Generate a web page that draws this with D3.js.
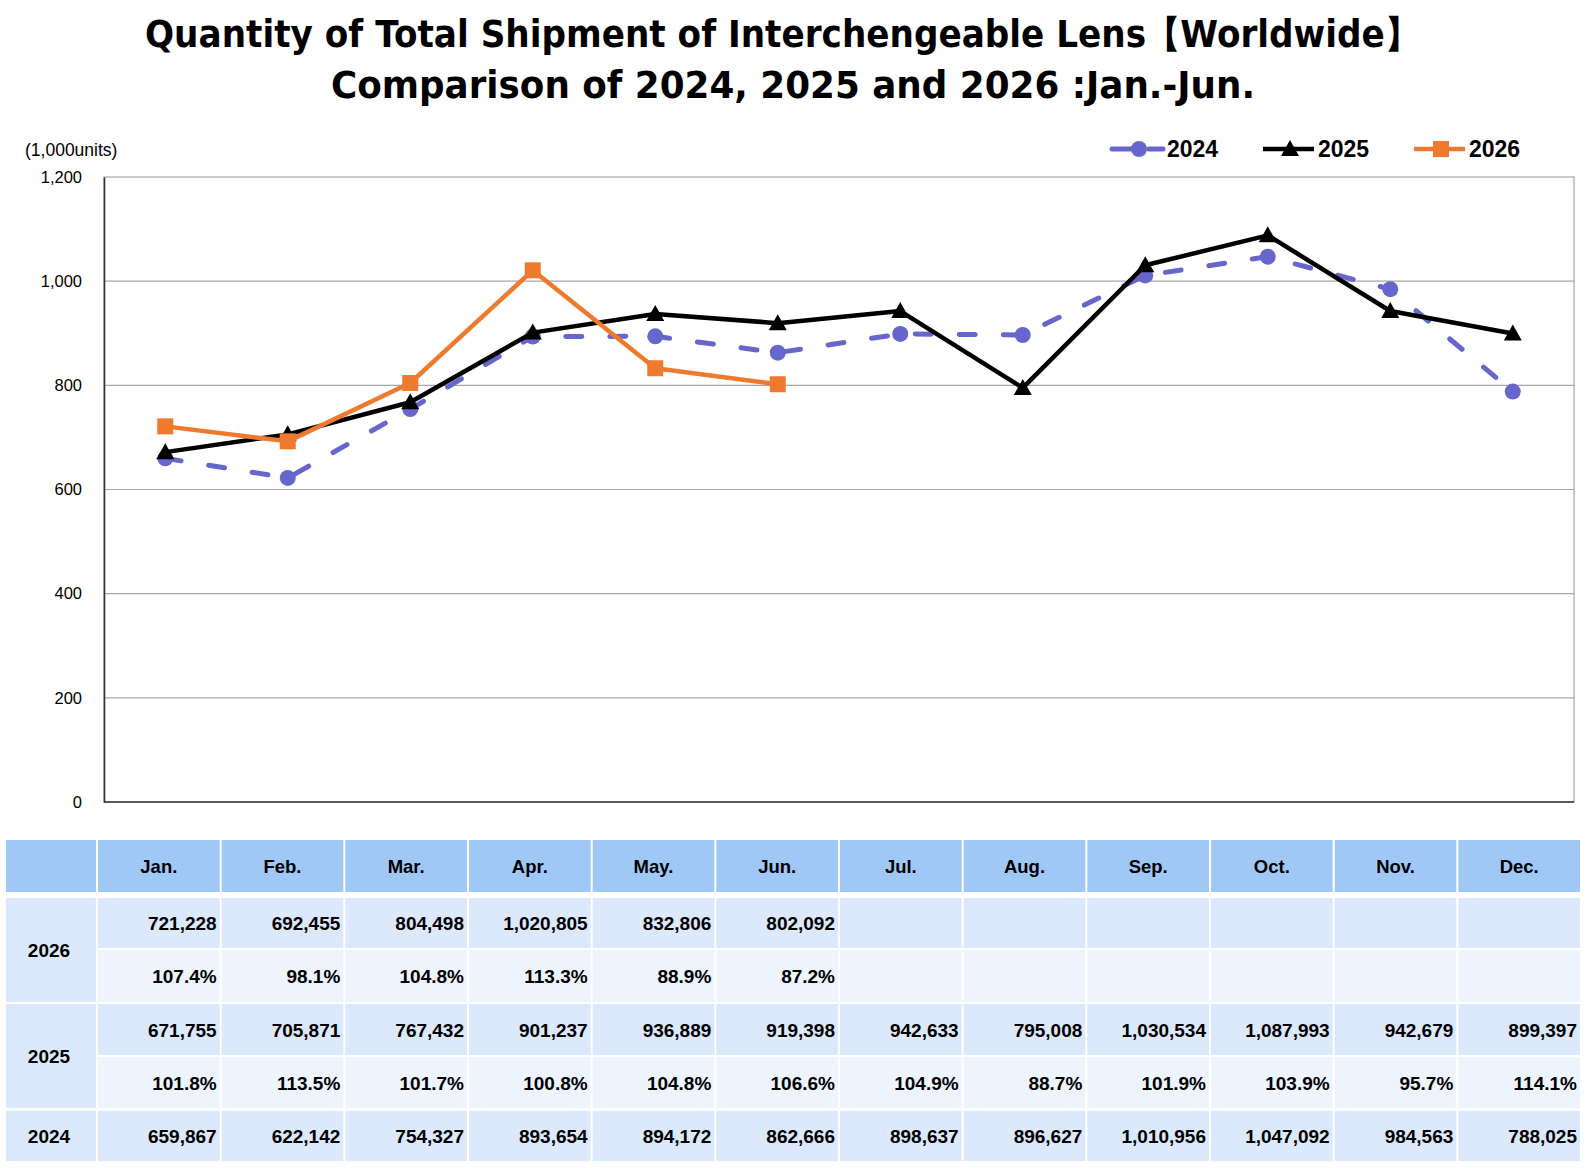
<!DOCTYPE html>
<html>
<head>
<meta charset="utf-8">
<script src="https://cdn.jsdelivr.net/npm/d3@7"></script>
<style>
  body { margin: 0; background: #fff; }
  svg { display: block; }
  text { font-family: "Liberation Sans", Arial, sans-serif; }
</style>
</head>
<body>
<svg id="canvas"></svg>
<script>
/***********************************************************************/
// Data

var months = ['Jan.', 'Feb.', 'Mar.', 'Apr.', 'May.', 'Jun.', 'Jul.', 'Aug.', 'Sep.', 'Oct.', 'Nov.', 'Dec.'];

var units2024 = [659867, 622142, 754327, 893654, 894172, 862666, 898637, 896627, 1010956, 1047092, 984563, 788025];
var units2025 = [671755, 705871, 767432, 901237, 936889, 919398, 942633, 795008, 1030534, 1087993, 942679, 899397];
var units2026 = [721228, 692455, 804498, 1020805, 832806, 802092];

var pct2025 = [101.8, 113.5, 101.7, 100.8, 104.8, 106.6, 104.9, 88.7, 101.9, 103.9, 95.7, 114.1];
var pct2026 = [107.4, 98.1, 104.8, 113.3, 88.9, 87.2];

var yTicks = [0, 200, 400, 600, 800, 1000, 1200];

var titleLines = [
  'Quantity of Total Shipment of Interchengeable Lens\u3010Worldwide\u3011',
  'Comparison of 2024, 2025 and 2026 :Jan.-Jun.'
];

/***********************************************************************/
// Variables

var width = 1587, height = 1168;
var plot = { left: 104, right: 1574, top: 177, bottom: 802 };

var series = [
  { name: '2024', values: units2024, color: '#6666cc', width: 5, dash: '16 28', marker: 'circle' },
  { name: '2025', values: units2025, color: '#000000', width: 4.5, dash: null, marker: 'triangle' },
  { name: '2026', values: units2026, color: '#ef7a2e', width: 4.5, dash: null, marker: 'square' }
];

var svg = d3.select('#canvas').attr('width', width).attr('height', height);

var x = d3.scaleBand().domain(months).range([plot.left, plot.right]);
var y = d3.scaleLinear().domain([0, 1200]).range([plot.bottom, plot.top]);

/***********************************************************************/
// Title

var titlePos = [ { x: 145, y: 47, w: 1274 }, { x: 331, y: 98, w: 924 } ];

svg.selectAll('.title').data(titleLines).enter().append('text')
  .attr('class', 'title')
  .attr('x', (d, i) => titlePos[i].x)
  .attr('y', (d, i) => titlePos[i].y)
  .attr('textLength', (d, i) => titlePos[i].w)
  .attr('lengthAdjust', 'spacingAndGlyphs')
  .style('font-family', '"DejaVu Sans", Verdana, sans-serif')
  .style('font-weight', 'bold')
  .style('font-size', '37px')
  .text(d => d);

/***********************************************************************/
// Axes & grid

svg.append('g')
  .selectAll('line').data(yTicks.slice(1, -1)).enter().append('line')
  .attr('x1', plot.left).attr('x2', plot.right)
  .attr('y1', d => y(d)).attr('y2', d => y(d))
  .attr('stroke', '#a6a6a6').attr('stroke-width', 1.2);

svg.append('rect')
  .attr('x', plot.left).attr('y', plot.top)
  .attr('width', plot.right - plot.left).attr('height', plot.bottom - plot.top)
  .attr('fill', 'none').attr('stroke', '#a6a6a6').attr('stroke-width', 1.2);

var yAxis = svg.append('g')
  .attr('transform', 'translate(' + plot.left + ',0)')
  .call(d3.axisLeft(y).tickValues(yTicks).tickSize(0).tickPadding(22).tickFormat(d3.format(',')));
yAxis.select('.domain').attr('stroke', '#333').attr('stroke-width', 1.6);
yAxis.selectAll('text').style('font-size', '16.5px').style('font-family', '"Liberation Sans", Arial, sans-serif').attr('fill', '#000');

svg.append('line')
  .attr('x1', plot.left).attr('x2', plot.right)
  .attr('y1', plot.bottom).attr('y2', plot.bottom)
  .attr('stroke', '#333').attr('stroke-width', 1.6);

svg.append('text')
  .attr('x', 25).attr('y', 156)
  .style('font-size', '17.5px')
  .text('(1,000units)');

/***********************************************************************/
// Lines & markers

function drawMarker(g, type, color, cx, cy){
  if(type == 'circle'){
    g.append('circle').attr('cx', cx).attr('cy', cy).attr('r', 8).attr('fill', color);
  } else if(type == 'triangle'){
    g.append('path').attr('d', 'M' + cx + ',' + (cy - 9) + 'L' + (cx + 9) + ',' + (cy + 7) + 'L' + (cx - 9) + ',' + (cy + 7) + 'Z').attr('fill', color);
  } else {
    g.append('rect').attr('x', cx - 8).attr('y', cy - 8).attr('width', 16).attr('height', 16).attr('fill', color);
  }
}

var line = d3.line()
  .x((d, i) => x(months[i]) + x.bandwidth() / 2)
  .y(d => y(d / 1000));

series.forEach(s => {
  var g = svg.append('g');
  g.append('path')
    .attr('d', line(s.values))
    .attr('fill', 'none')
    .attr('stroke', s.color)
    .attr('stroke-width', s.width)
    .attr('stroke-linejoin', 'round')
    .attr('stroke-linecap', s.dash ? 'round' : 'butt')
    .attr('stroke-dasharray', s.dash);
  s.values.forEach((v, i) => {
    drawMarker(g, s.marker, s.color, x(months[i]) + x.bandwidth() / 2, y(v / 1000));
  });
});

/***********************************************************************/
// Legend

var legend = svg.append('g');
series.forEach((s, i) => {
  var lx = 1112 + i * 151;
  legend.append('line')
    .attr('x1', lx).attr('x2', lx + 51).attr('y1', 149).attr('y2', 149)
    .attr('stroke', s.color).attr('stroke-width', s.width)
    .attr('stroke-linecap', s.dash ? 'round' : 'butt')
    .attr('stroke-dasharray', s.dash ? '22 15' : null);
  drawMarker(legend, s.marker, s.color, lx + 27, 149);
  legend.append('text')
    .attr('x', lx + 55).attr('y', 157)
    .style('font-size', '23px').style('font-weight', 'bold')
    .text(s.name);
});

/***********************************************************************/
// Table

var colX = d3.scaleBand().domain(months).range([97, 1581]);
var labelCol = { x: 6, w: 90 };

var rows = [
  { top: 840, h: 52, fill: '#9fc8f6' },                       // header
  { top: 898, h: 50, fill: '#dce8fb', values: units2026, fmt: d3.format(',') },
  { top: 950, h: 52, fill: '#edf4fe', values: pct2026, fmt: d => d.toFixed(1) + '%' },
  { top: 1004, h: 51, fill: '#dce8fb', values: units2025, fmt: d3.format(',') },
  { top: 1057, h: 51, fill: '#edf4fe', values: pct2025, fmt: d => d.toFixed(1) + '%' },
  { top: 1111, h: 50, fill: '#dce8fb', values: units2024, fmt: d3.format(',') }
];

var yearLabels = [
  { name: '2026', top: 898, h: 104 },
  { name: '2025', top: 1004, h: 104 },
  { name: '2024', top: 1111, h: 50 }
];

var table = svg.append('g');

// header
table.append('rect')
  .attr('x', labelCol.x).attr('y', rows[0].top).attr('width', labelCol.w).attr('height', rows[0].h)
  .attr('fill', rows[0].fill);
months.forEach(m => {
  table.append('rect')
    .attr('x', colX(m) + 1).attr('y', rows[0].top).attr('width', colX.bandwidth() - 2).attr('height', rows[0].h)
    .attr('fill', rows[0].fill);
  table.append('text')
    .attr('x', colX(m) + colX.bandwidth() / 2).attr('y', rows[0].top + rows[0].h / 2 + 7)
    .attr('text-anchor', 'middle')
    .style('font-size', '18.5px').style('font-weight', 'bold')
    .text(m);
});

// body
rows.slice(1).forEach(r => {
  months.forEach((m, i) => {
    table.append('rect')
      .attr('x', colX(m) + 1).attr('y', r.top).attr('width', colX.bandwidth() - 2).attr('height', r.h)
      .attr('fill', r.fill);
    if(i < r.values.length){
      table.append('text')
        .attr('x', colX(m) + colX.bandwidth() - 4).attr('y', r.top + r.h / 2 + 7)
        .attr('text-anchor', 'end')
        .style('font-size', '19px').style('font-weight', 'bold')
        .text(r.fmt(r.values[i]));
    }
  });
});

yearLabels.forEach(l => {
  table.append('rect')
    .attr('x', labelCol.x).attr('y', l.top).attr('width', labelCol.w).attr('height', l.h)
    .attr('fill', '#dce8fb');
  table.append('text')
    .attr('x', labelCol.x + labelCol.w / 2 - 2).attr('y', l.top + l.h / 2 + 7)
    .attr('text-anchor', 'middle')
    .style('font-size', '19px').style('font-weight', 'bold')
    .text(l.name);
});
</script>
</body>
</html>
